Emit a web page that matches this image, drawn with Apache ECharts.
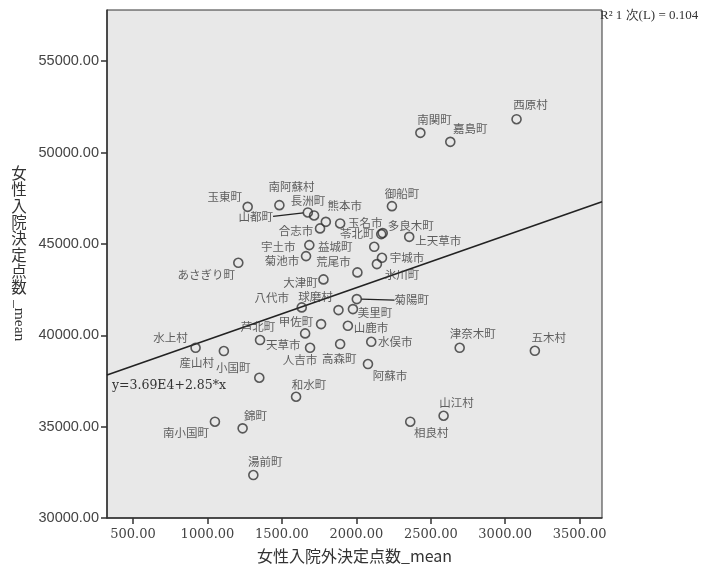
<!DOCTYPE html>
<html>
<head>
<meta charset="utf-8">
<script src="https://cdn.jsdelivr.net/npm/echarts@6/dist/echarts.min.js"></script>
<style>
html,body{margin:0;padding:0;background:#ffffff;}
#chart{width:715px;height:572px;}
</style>
</head>
<body>
<div id="chart"></div>
<script>
// ---- data ----
const names = ['西原村','南関町','嘉島町','御船町','上天草市','多良木町','苓北町','益城町','玉名市','熊本市',
  '合志市','長洲町','山都町','南阿蘇村','玉東町','宇土市','菊池市','荒尾市','宇城市','氷川町',
  'あさぎり町','大津町','八代市','菊陽町','球磨村','美里町','甲佐町','山鹿市','天草市','芦北町',
  '人吉市','高森町','水俣市','阿蘇市','水上村','産山村','小国町','和水町','津奈木町','五木村',
  '錦町','南小国町','湯前町','相良村','山江村'];
const xValues = [3076,2430,2631,2239,2355,2177,2167,2120,1891,1795,
  1756,1716,1674,1483,1270,1684,1662,2007,2172,2138,
  1207,1779,1633,2003,1880,1977,1763,1943,1656,1353,
  1689,1891,2100,2078,920,1110,1348,1595,2694,3199,
  1236,1050,1308,2362,2586];
const yValues = [51825,51076,50584,47066,45387,45590,45535,44840,46120,46208,
  45847,46558,46722,47121,47028,44933,44331,43440,44238,43894,
  43965,43057,41525,41979,41378,41432,40612,40519,40103,39737,
  39315,39518,39644,38424,39315,39135,37675,36635,39315,39151,
  34907,35268,32352,35268,35596];
const xTicks = [500,1000,1500,2000,2500,3000,3500];
const yTicks = [30000,35000,40000,45000,50000,55000];
const fitIntercept = 36900;
const fitSlope = 2.85;
const fitText = 'y=3.69E4+2.85*x';
const r2Text = 'R² 1 次(L) = 0.104';
const xTitle = '女性入院外決定点数_mean';
const yTitleCJK = '女性入院決定点数';
const yTitleLatin = '_mean';

// ---- label layout (style only) ----
const labelOffsets = {
  '西原村':[14,-15],'南関町':[14,-13],'嘉島町':[20,-13],'御船町':[10,-13],'上天草市':[29,4],
  '多良木町':[28,-7],'苓北町':[-24,0],'益城町':[-39,0],'玉名市':[25,-1],'熊本市':[19,-16],
  '合志市':[-24,2],'長洲町':[-6,-15],'山都町':[-52,4],'南阿蘇村':[12,-19],'玉東町':[-23,-10],
  '宇土市':[-31,2],'菊池市':[-24,5],'荒尾市':[-24,-11],'宇城市':[25,0],'氷川町':[25,11],
  'あさぎり町':[-32,12],'大津町':[-23,3],'八代市':[-30,-10],'菊陽町':[55,1],'球磨村':[-23,-13],
  '美里町':[22,4],'甲佐町':[-25,-2],'山鹿市':[23,2],'天草市':[-22,11],'芦北町':[-2,-13],
  '人吉市':[-10,12],'高森町':[-1,15],'水俣市':[24,0],'阿蘇市':[22,12],'水上村':[-25,-10],
  '産山村':[-27,12],'小国町':[-26,-10],'和水町':[13,-12],'津奈木町':[13,-14],'五木村':[14,-13],
  '錦町':[13,-13],'南小国町':[-29,11],'湯前町':[12,-13],'相良村':[21,11],'山江村':[13,-13]
};
const leaderLabels = ['山都町','菊陽町'];

const xMin = 325, xMax = 3650, yMin = 30000, yMax = 57800;

const chart = echarts.init(document.getElementById('chart'), null, {renderer:'canvas'});

const pts = names.map((n, i) => ({
  name: n,
  value: [xValues[i], yValues[i]],
  labelLine: {show: leaderLabels.indexOf(n) >= 0}
}));

const fitData = [[xMin, fitIntercept + fitSlope * xMin], [xMax, fitIntercept + fitSlope * xMax]];

const axisLabelY = {fontFamily:'Liberation Sans', fontSize:14.5, color:'#444', margin:8,
  formatter: v => v.toFixed(2), customValues: yTicks};
const axisLabelX = {fontFamily:'DejaVu Serif', fontSize:13, color:'#444', margin:10,
  formatter: v => v.toFixed(2), customValues: xTicks};

chart.setOption({
  animation:false,
  backgroundColor:'#ffffff',
  grid:{left:107, right:113, top:10, bottom:54, show:true, backgroundColor:'#e8e8e8',
    borderColor:'#333', borderWidth:1},
  xAxis:{type:'value', min:xMin, max:xMax,
    name:xTitle, nameLocation:'middle', nameGap:30,
    nameTextStyle:{fontFamily:'Noto Sans CJK JP', fontSize:16, color:'#333'},
    axisLine:{show:true, lineStyle:{color:'#333', width:1.5}},
    axisTick:{show:true, inside:false, length:6, lineStyle:{color:'#333', width:1.5}, customValues:xTicks},
    axisLabel:axisLabelX, splitLine:{show:false}},
  yAxis:{type:'value', min:yMin, max:yMax,
    axisLine:{show:true, lineStyle:{color:'#333', width:1.5}},
    axisTick:{show:true, inside:false, length:6, lineStyle:{color:'#333', width:1.5}, customValues:yTicks},
    axisLabel:axisLabelY, splitLine:{show:false}},
  series:[
    {type:'line', data:fitData, symbol:'none', silent:true, z:2,
      lineStyle:{color:'#222', width:1.6}},
    {type:'scatter', data:pts, symbol:'circle', symbolSize:9, z:3,
      itemStyle:{color:'rgba(0,0,0,0)', borderColor:'#333', borderWidth:1.6},
      label:{show:true, position:'inside', formatter: p => p.name,
        fontFamily:'Noto Sans CJK JP', fontSize:11.5, color:'#3a3a3a'},
      labelLine:{show:false, lineStyle:{color:'#222', width:1.3}},
      labelLayout: function(params){
        const n = names[params.dataIndex];
        const o = labelOffsets[n] || [0,-12];
        return {dx:o[0], dy:o[1]};
      }
    }
  ],
  graphic:[
    {type:'text', left:112, top:379, silent:true,
      style:{text:fitText, fontFamily:'DejaVu Serif', fontSize:12.5, fill:'#333'}},
    {type:'text', left:600, top:9, silent:true,
      style:{text:r2Text, fontFamily:'Liberation Serif', fontSize:13, fill:'#333'}},
    {type:'text', x:19, y:165, silent:true,
      style:{text:yTitleCJK.split('').join('\n'), fontFamily:'Noto Sans CJK JP', fontSize:15.5,
        lineHeight:16.3, align:'center', verticalAlign:'top', fill:'#333'}},
    {type:'text', x:19, y:300, rotation:-Math.PI/2, silent:true,
      style:{text:yTitleLatin, fontFamily:'Liberation Serif', fontSize:15.5,
        align:'left', verticalAlign:'middle', fill:'#333'}}
  ]
});
</script>
</body>
</html>
